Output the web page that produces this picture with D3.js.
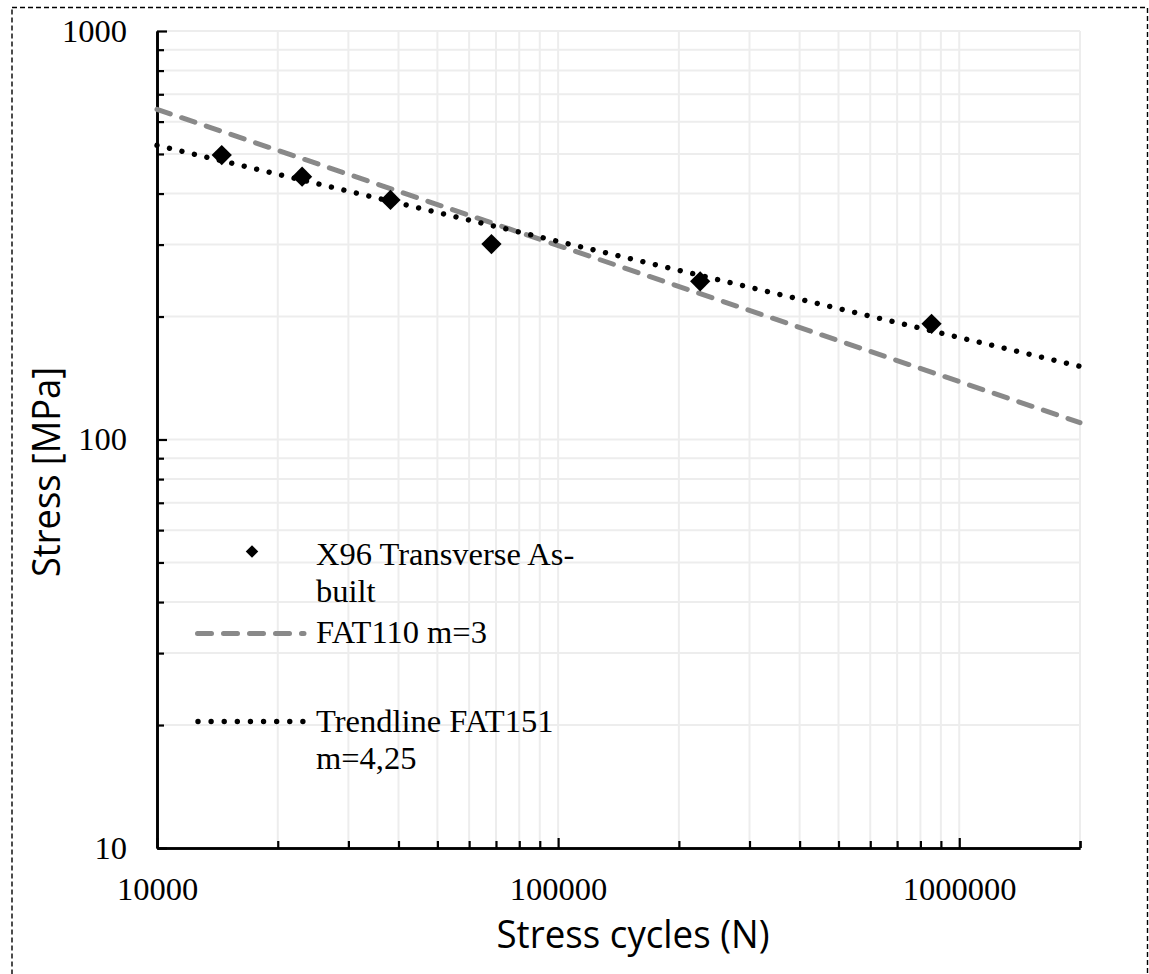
<!DOCTYPE html>
<html>
<head>
<meta charset="utf-8">
<script src="https://cdn.jsdelivr.net/npm/d3@7"></script>
<style>
  html, body { margin: 0; padding: 0; background: #fff; }
  svg { display: block; }
</style>
</head>
<body>
<svg id="chart" width="1149" height="974"></svg>
<script>
// Fatigue test results (S-N), log-log axes
const cycles = [14500, 23000, 38200, 68200, 226000, 853000];
const stress = [497, 440, 386, 301, 244, 192];

// Design curve FAT110 (m=3) and fitted trendline FAT151 (m=4.25), end points
const lineCycles = [10000, 2000000];
const fatStress = [643, 110];
const trendStress = [525, 151];

const xTickLabels = [10000, 100000, 1000000];
const yTickLabels = [10, 100, 1000];
const legendLabels = [["X96 Transverse As-", "built"], ["FAT110 m=3"], ["Trendline FAT151", "m=4,25"]];

const svg = d3.select("#chart");
const W = 1149, H = 974;
const plotL = 157, plotR = 1080, plotT = 31, plotB = 848;

svg.append("rect").attr("width", W).attr("height", H).attr("fill", "#fff");

const x = d3.scaleLog().domain([10000, 2000000]).range([plotL, plotR]);
const y = d3.scaleLog().domain([10, 1000]).range([plotB, plotT]);

// all grid/tick positions per decade
const xAll = [];
for (let d = 10000; d < 2000000; d *= 10)
  for (let k = 1; k < 10; k++) { const v = d * k; if (v <= 2000000) xAll.push(v); }
xAll.push(2000000);
const yAll = [];
for (let d = 10; d < 1000; d *= 10)
  for (let k = 1; k < 10; k++) yAll.push(d * k);
yAll.push(1000);

const grid = svg.append("g").attr("stroke", "#ededed").attr("stroke-width", 2);
grid.selectAll("line.v").data(xAll.filter(v => v > 10000)).join("line")
  .attr("class", "v")
  .attr("x1", d => x(d)).attr("x2", d => x(d)).attr("y1", plotT).attr("y2", plotB);
grid.selectAll("line.h").data(yAll.filter(v => v > 10)).join("line")
  .attr("class", "h")
  .attr("x1", plotL).attr("x2", plotR).attr("y1", d => y(d)).attr("y2", d => y(d));

// Axes: minor ticks point inward, decades get longer ticks and labels
const serif = "'Liberation Serif', serif";
const serifSize = 32.5;
function styleAxis(g) {
  g.attr("font-family", serif).attr("font-size", serifSize);
  g.selectAll("text").attr("fill", "#000").attr("font-family", serif);
  g.selectAll("line").attr("stroke", "#000").attr("stroke-width", 2.2);
  g.select(".domain").attr("stroke", "#000").attr("stroke-width", 2.6);
}

svg.append("g").attr("transform", `translate(${plotL},0)`)
  .call(d3.axisLeft(y).tickValues(yAll.filter(v => !yTickLabels.includes(v))).tickSize(-7).tickSizeOuter(0).tickFormat(""))
  .call(styleAxis);
svg.append("g").attr("transform", `translate(${plotL},0)`)
  .call(d3.axisLeft(y).tickValues(yTickLabels).tickSize(-10).tickSizeOuter(0).tickPadding(30).tickFormat(d3.format("d")))
  .call(styleAxis);

svg.append("g").attr("transform", `translate(0,${plotB})`)
  .call(d3.axisBottom(x).tickValues(xAll.filter(v => !xTickLabels.includes(v))).tickSize(-7).tickSizeOuter(0).tickFormat(""))
  .call(styleAxis);
svg.append("g").attr("transform", `translate(0,${plotB})`)
  .call(d3.axisBottom(x).tickValues(xTickLabels).tickSize(-10).tickSizeOuter(0).tickPadding(29).tickFormat(d3.format("d")))
  .call(styleAxis);

// Curves
const line = d3.line().x(d => x(d[0])).y(d => y(d[1]));
const plot = svg.append("g");
plot.append("path").datum(lineCycles.map((n, i) => [n, fatStress[i]]))
  .attr("d", line).attr("fill", "none").attr("stroke", "#898989")
  .attr("stroke-width", 5).attr("stroke-linecap", "round").attr("stroke-dasharray", "14,12");
plot.append("path").datum(lineCycles.map((n, i) => [n, trendStress[i]]))
  .attr("d", line).attr("fill", "none").attr("stroke", "#000")
  .attr("stroke-width", 5.4).attr("stroke-linecap", "round").attr("stroke-dasharray", "0.01,12.8");

// Test points
const diamond = d3.symbol().type(d3.symbolSquare).size(205);
plot.selectAll("path.pt").data(cycles.map((n, i) => [n, stress[i]])).join("path")
  .attr("class", "pt").attr("d", diamond).attr("fill", "#000")
  .attr("transform", d => `translate(${x(d[0])},${y(d[1])}) rotate(45)`);

// Legend
const lg = svg.append("g").attr("font-family", serif).attr("font-size", serifSize).attr("fill", "#000");
lg.append("path").attr("d", d3.symbol().type(d3.symbolSquare).size(78)())
  .attr("transform", "translate(252,551.5) rotate(45)").attr("fill", "#000");
lg.append("line").attr("x1", 197.5).attr("x2", 304).attr("y1", 633.5).attr("y2", 633.5)
  .attr("stroke", "#898989").attr("stroke-width", 5).attr("stroke-linecap", "round").attr("stroke-dasharray", "14,12");
lg.append("line").attr("x1", 198).attr("x2", 303).attr("y1", 721.5).attr("y2", 721.5)
  .attr("stroke", "#000").attr("stroke-width", 5.4).attr("stroke-linecap", "round").attr("stroke-dasharray", "0.01,13.1");
const legendBase = [565, 643, 732];
legendLabels.forEach((lines, i) => {
  lines.forEach((t, j) => {
    lg.append("text").attr("x", 316).attr("y", legendBase[i] + j * 36.5).text(t);
  });
});

// Axis titles
const sans = "'Open Sans', 'Noto Sans', sans-serif";
svg.append("text").attr("x", 633).attr("y", 948).attr("text-anchor", "middle")
  .attr("font-family", sans).attr("font-size", 39).attr("fill", "#000")
  .attr("textLength", 273).attr("lengthAdjust", "spacingAndGlyphs")
  .text("Stress cycles (N)");
svg.append("text").attr("transform", "translate(60,472) rotate(-90)").attr("text-anchor", "middle")
  .attr("font-family", sans).attr("font-size", 39).attr("fill", "#000")
  .attr("textLength", 210).attr("lengthAdjust", "spacingAndGlyphs")
  .text("Stress [MPa]");

// Dashed frame
svg.append("rect").attr("x", 12).attr("y", 7.5).attr("width", 1135.5).attr("height", 1000)
  .attr("fill", "none").attr("stroke", "#000").attr("stroke-width", 1.4).attr("stroke-dasharray", "5,3");
</script>
</body>
</html>
